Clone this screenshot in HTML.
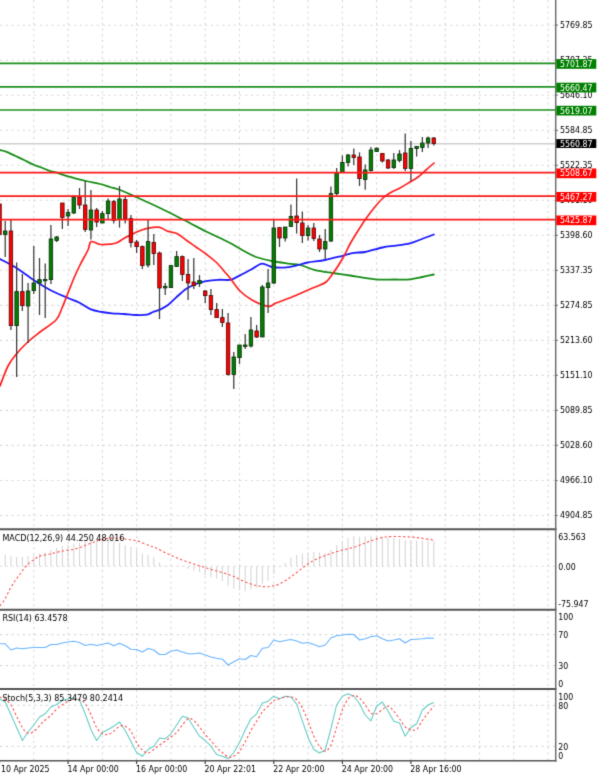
<!DOCTYPE html>
<html lang="en"><head><meta charset="utf-8"><title>Chart</title>
<style>
html,body{margin:0;padding:0;background:#fff;}
body{width:600px;height:776px;overflow:hidden;}
svg{display:block;}
text{font-family:"DejaVu Sans Condensed","Liberation Sans",sans-serif;}
.ax{font-size:8.75px;fill:#000;}
.bx{font-size:8.75px;fill:#fff;}
.lg{font-size:8.92px;fill:#000;}
.dt{font-size:8.75px;fill:#000;}
.grid{stroke:#d9d9d9;stroke-width:1.1;stroke-dasharray:2.2 3.5;fill:none;}
.wick{stroke:#3a3a3a;stroke-width:1.25;}
.g{fill:#008000;stroke:#0c2a0c;stroke-width:.8;}
.r{fill:#ff0000;stroke:#4a0a0a;stroke-width:.8;}
.frame{stroke:#555;stroke-width:1.9;fill:none;}
</style></head><body>
<svg width="600" height="776" viewBox="0 0 600 776">
<defs><filter id="soft" x="0" y="0" width="600" height="776" filterUnits="userSpaceOnUse" color-interpolation-filters="sRGB"><feConvolveMatrix order="3" kernelMatrix="0.0144 0.0912 0.0144 0.0912 0.5776 0.0912 0.0144 0.0912 0.0144" divisor="1" edgeMode="duplicate" preserveAlpha="false"/></filter></defs>
<g filter="url(#soft)">
<rect width="600" height="776" fill="#fff"/>
<g class="grid">
<line x1="33.8" y1="0" x2="33.8" y2="760.8"/>
<line x1="68.1" y1="0" x2="68.1" y2="760.8"/>
<line x1="102.4" y1="0" x2="102.4" y2="760.8"/>
<line x1="136.6" y1="0" x2="136.6" y2="760.8"/>
<line x1="170.9" y1="0" x2="170.9" y2="760.8"/>
<line x1="205.2" y1="0" x2="205.2" y2="760.8"/>
<line x1="239.5" y1="0" x2="239.5" y2="760.8"/>
<line x1="273.8" y1="0" x2="273.8" y2="760.8"/>
<line x1="308.1" y1="0" x2="308.1" y2="760.8"/>
<line x1="342.4" y1="0" x2="342.4" y2="760.8"/>
<line x1="376.6" y1="0" x2="376.6" y2="760.8"/>
<line x1="410.9" y1="0" x2="410.9" y2="760.8"/>
<line x1="445.2" y1="0" x2="445.2" y2="760.8"/>
<line x1="479.5" y1="0" x2="479.5" y2="760.8"/>
<line x1="513.8" y1="0" x2="513.8" y2="760.8"/>
<line x1="548.1" y1="0" x2="548.1" y2="760.8"/>
<line x1="0" y1="25.2" x2="555.5" y2="25.2"/>
<line x1="0" y1="60.2" x2="555.5" y2="60.2"/>
<line x1="0" y1="95.2" x2="555.5" y2="95.2"/>
<line x1="0" y1="130.3" x2="555.5" y2="130.3"/>
<line x1="0" y1="165.3" x2="555.5" y2="165.3"/>
<line x1="0" y1="200.3" x2="555.5" y2="200.3"/>
<line x1="0" y1="235.3" x2="555.5" y2="235.3"/>
<line x1="0" y1="270.3" x2="555.5" y2="270.3"/>
<line x1="0" y1="305.4" x2="555.5" y2="305.4"/>
<line x1="0" y1="340.4" x2="555.5" y2="340.4"/>
<line x1="0" y1="375.4" x2="555.5" y2="375.4"/>
<line x1="0" y1="410.4" x2="555.5" y2="410.4"/>
<line x1="0" y1="445.4" x2="555.5" y2="445.4"/>
<line x1="0" y1="480.5" x2="555.5" y2="480.5"/>
<line x1="0" y1="515.5" x2="555.5" y2="515.5"/>
<line x1="0" y1="566.2" x2="555.5" y2="566.2"/>
<line x1="0" y1="634.6" x2="555.5" y2="634.6"/>
<line x1="0" y1="665.6" x2="555.5" y2="665.6"/>
<line x1="0" y1="705.4" x2="555.5" y2="705.4"/>
<line x1="0" y1="746.4" x2="555.5" y2="746.4"/>
</g>
<line x1="0" y1="143.8" x2="555.5" y2="143.8" stroke="#d0d0d0" stroke-width="1.6"/>
<path d="M0.0,150.0C1.0,150.3 3.4,150.6 6.0,151.6C8.6,152.6 12.5,154.6 15.5,156.0C18.5,157.4 20.9,158.5 24.0,160.0C27.1,161.5 31.3,163.6 34.0,164.8C36.7,166.0 37.2,165.9 40.0,167.0C42.8,168.1 48.3,170.5 51.0,171.4C53.7,172.3 53.2,171.6 56.0,172.4C58.8,173.2 63.0,175.0 68.0,176.4C73.0,177.8 80.7,179.7 86.0,181.0C91.3,182.3 96.0,183.0 100.0,184.0C104.0,185.0 106.7,186.0 110.0,187.0C113.3,188.0 115.7,188.3 120.0,190.0C124.3,191.7 129.3,194.0 136.0,197.0C142.7,200.0 152.0,204.2 160.0,208.0C168.0,211.8 176.3,216.1 184.0,220.0C191.7,223.9 200.0,228.5 206.0,231.5C212.0,234.5 215.7,235.9 220.0,238.0C224.3,240.1 228.0,241.8 232.0,244.0C236.0,246.2 240.0,248.8 244.0,251.0C248.0,253.2 251.3,255.3 256.0,257.0C260.7,258.7 266.7,259.9 272.0,261.0C277.3,262.1 283.3,262.9 288.0,263.6C292.7,264.3 295.5,263.9 300.0,265.0C304.5,266.1 309.6,268.7 315.0,270.0C320.4,271.3 326.7,272.1 332.5,273.0C338.3,273.9 342.9,274.4 350.0,275.5C357.1,276.6 367.5,278.6 375.0,279.3C382.5,280.0 389.2,279.5 395.0,279.5C400.8,279.5 405.4,279.7 410.0,279.3C414.6,278.9 418.5,277.8 422.5,277.0C426.5,276.2 431.9,274.9 433.8,274.5" fill="none" stroke="#158c15" stroke-width="1.8" stroke-linejoin="round" stroke-linecap="round"/>
<path d="M0.0,259.0C2.7,260.5 10.8,264.5 16.4,268.0C22.0,271.5 27.9,276.3 33.6,280.0C39.3,283.7 44.9,287.2 50.6,290.2C56.3,293.2 63.1,295.9 68.0,298.0C72.9,300.1 76.2,301.1 80.0,303.0C83.8,304.9 87.3,307.9 91.0,309.4C94.7,310.9 98.5,311.3 102.0,312.0C105.5,312.7 108.3,313.1 112.0,313.4C115.7,313.7 120.0,313.7 124.0,314.0C128.0,314.3 132.2,314.9 136.0,315.0C139.8,315.1 144.2,315.1 147.0,314.6C149.8,314.1 150.8,312.8 153.0,312.0C155.2,311.2 157.5,310.8 160.0,309.6C162.5,308.4 165.3,307.0 168.0,305.0C170.7,303.0 173.0,300.3 176.0,297.6C179.0,294.9 182.7,291.3 186.0,289.0C189.3,286.7 192.7,285.3 196.0,284.0C199.3,282.7 202.3,281.9 206.0,281.2C209.7,280.5 214.3,280.0 218.0,279.8C221.7,279.6 225.7,280.1 228.0,280.0C230.3,279.9 230.0,280.1 232.0,279.3C234.0,278.5 236.7,277.1 240.0,275.4C243.3,273.7 248.3,271.0 252.0,269.0C255.7,267.0 258.7,263.9 262.0,263.6C265.3,263.3 268.3,266.3 272.0,267.0C275.7,267.7 280.0,267.8 284.0,267.6C288.0,267.4 292.1,266.5 296.0,265.6C299.9,264.8 302.7,263.4 307.5,262.5C312.3,261.6 319.2,261.1 325.0,260.0C330.8,258.9 337.7,257.0 342.5,255.8C347.3,254.6 350.2,253.4 354.0,252.8C357.8,252.2 360.2,252.9 365.0,252.0C369.8,251.1 377.3,248.6 382.5,247.5C387.7,246.4 391.4,246.3 396.0,245.6C400.6,244.9 405.7,244.4 410.0,243.3C414.3,242.2 418.0,240.5 422.0,239.0C426.0,237.5 431.8,235.2 433.8,234.5" fill="none" stroke="#1a1aff" stroke-width="1.8" stroke-linejoin="round" stroke-linecap="round"/>
<path d="M0.0,386.0C1.3,382.7 5.3,371.3 8.0,366.0C10.7,360.7 13.1,358.0 16.4,354.0C19.7,350.0 23.9,345.7 27.8,342.0C31.7,338.3 35.3,335.7 40.0,332.0C44.7,328.3 52.3,324.0 56.0,320.0C59.7,316.0 60.0,312.5 62.0,308.0C64.0,303.5 66.0,298.0 68.0,293.0C70.0,288.0 72.0,282.7 74.0,278.0C76.0,273.3 77.7,269.7 80.0,265.0C82.3,260.3 86.2,253.9 88.0,250.0C89.8,246.1 89.0,242.5 91.0,241.6C93.0,240.7 96.8,244.1 100.0,244.5C103.2,244.9 107.2,244.5 110.0,244.2C112.8,243.9 114.2,243.9 116.8,242.8C119.2,241.7 122.2,239.3 125.0,237.8C127.8,236.3 130.8,234.8 133.5,233.6C136.2,232.3 138.5,231.2 141.0,230.3C143.5,229.4 145.8,228.6 148.6,228.1C151.4,227.6 155.4,227.1 157.8,227.2C160.2,227.3 161.5,228.2 163.0,228.8C164.5,229.4 164.7,230.2 167.0,231.0C169.3,231.8 173.8,232.1 177.0,233.6C180.2,235.1 182.8,237.8 186.0,240.0C189.2,242.2 192.7,244.7 196.0,247.0C199.3,249.3 202.7,251.5 206.0,254.0C209.3,256.5 213.0,259.2 216.0,262.0C219.0,264.8 221.7,268.3 224.0,271.0C226.3,273.7 227.3,274.7 230.0,278.0C232.7,281.3 236.3,287.3 240.0,291.0C243.7,294.7 247.3,297.4 252.0,300.0C256.7,302.6 264.0,305.9 268.0,306.4C272.0,306.9 272.0,304.6 276.0,303.0C280.0,301.4 286.7,299.2 292.0,297.0C297.3,294.8 303.3,292.0 308.0,290.0C312.7,288.0 317.0,286.3 320.0,285.0C323.0,283.7 323.9,283.8 326.0,282.0C328.1,280.2 330.5,276.7 332.5,274.0C334.5,271.3 336.1,269.0 338.0,266.0C339.9,263.0 342.0,259.7 344.0,256.0C346.0,252.3 348.0,247.7 350.0,244.0C352.0,240.3 353.5,238.0 356.0,234.0C358.5,230.0 362.0,224.3 365.0,220.0C368.0,215.7 371.0,211.7 374.0,208.0C377.0,204.3 380.3,200.5 383.0,198.0C385.7,195.5 387.2,194.7 390.0,193.0C392.8,191.3 396.7,189.8 400.0,188.0C403.3,186.2 407.0,183.8 410.0,182.0C413.0,180.2 415.3,179.0 418.0,177.0C420.7,175.0 423.3,172.3 426.0,170.0C428.7,167.7 432.7,164.2 434.0,163.0" fill="none" stroke="#ff2020" stroke-width="1.7" stroke-linejoin="round" stroke-linecap="round"/>
<g>
<line class="wick" x1="-0.50" y1="204" x2="-0.50" y2="234.5"/>
<rect class="r" x="-2.25" y="204" width="3.5" height="30.5"/>
<line class="wick" x1="5.21" y1="221" x2="5.21" y2="257"/>
<rect class="g" x="3.46" y="231" width="3.5" height="3.5"/>
<line class="wick" x1="10.93" y1="219.5" x2="10.93" y2="330"/>
<rect class="r" x="9.18" y="231" width="3.5" height="94.6"/>
<line class="wick" x1="16.64" y1="262.4" x2="16.64" y2="377"/>
<rect class="g" x="14.89" y="291.6" width="3.5" height="34.0"/>
<line class="wick" x1="22.36" y1="274" x2="22.36" y2="311"/>
<rect class="r" x="20.61" y="291.6" width="3.5" height="14.0"/>
<line class="wick" x1="28.07" y1="283" x2="28.07" y2="343"/>
<rect class="g" x="26.32" y="291" width="3.5" height="15.0"/>
<line class="wick" x1="33.79" y1="246" x2="33.79" y2="294"/>
<rect class="g" x="32.04" y="283" width="3.5" height="7.6"/>
<line class="wick" x1="39.50" y1="258" x2="39.50" y2="315"/>
<rect class="g" x="37.75" y="279.6" width="3.5" height="3.4"/>
<line class="wick" x1="45.21" y1="263.6" x2="45.21" y2="318"/>
<rect class="g" x="43.46" y="279.4" width="3.5" height="1.4"/>
<line class="wick" x1="50.93" y1="225" x2="50.93" y2="284"/>
<rect class="g" x="49.18" y="239" width="3.5" height="40.6"/>
<line class="wick" x1="56.64" y1="236" x2="56.64" y2="242"/>
<rect class="g" x="54.89" y="237" width="3.5" height="3.4"/>
<line class="wick" x1="62.36" y1="203" x2="62.36" y2="229"/>
<rect class="r" x="60.61" y="203" width="3.5" height="14.4"/>
<line class="wick" x1="68.07" y1="209" x2="68.07" y2="226"/>
<rect class="g" x="66.32" y="212.6" width="3.5" height="3.4"/>
<line class="wick" x1="73.79" y1="195" x2="73.79" y2="214"/>
<rect class="g" x="72.04" y="197" width="3.5" height="16.0"/>
<line class="wick" x1="79.50" y1="188" x2="79.50" y2="209"/>
<rect class="r" x="77.75" y="197" width="3.5" height="8.0"/>
<line class="wick" x1="85.21" y1="181" x2="85.21" y2="232"/>
<rect class="r" x="83.46" y="205" width="3.5" height="24.4"/>
<line class="wick" x1="90.93" y1="190" x2="90.93" y2="239.6"/>
<rect class="g" x="89.18" y="210" width="3.5" height="20.0"/>
<line class="wick" x1="96.64" y1="208" x2="96.64" y2="227"/>
<rect class="r" x="94.89" y="210" width="3.5" height="12.0"/>
<line class="wick" x1="102.36" y1="211" x2="102.36" y2="223"/>
<rect class="g" x="100.61" y="213.6" width="3.5" height="9.4"/>
<line class="wick" x1="108.07" y1="198.6" x2="108.07" y2="219"/>
<rect class="g" x="106.32" y="201" width="3.5" height="12.6"/>
<line class="wick" x1="113.79" y1="200" x2="113.79" y2="223.6"/>
<rect class="r" x="112.04" y="201.6" width="3.5" height="18.8"/>
<line class="wick" x1="119.50" y1="186" x2="119.50" y2="227.6"/>
<rect class="g" x="117.75" y="199" width="3.5" height="20.4"/>
<line class="wick" x1="125.21" y1="197" x2="125.21" y2="223.6"/>
<rect class="r" x="123.46" y="199.6" width="3.5" height="19.4"/>
<line class="wick" x1="130.93" y1="215" x2="130.93" y2="247.6"/>
<rect class="r" x="129.18" y="218.6" width="3.5" height="23.8"/>
<line class="wick" x1="136.64" y1="240" x2="136.64" y2="253"/>
<rect class="r" x="134.89" y="242" width="3.5" height="4.6"/>
<line class="wick" x1="142.36" y1="245.6" x2="142.36" y2="269"/>
<rect class="r" x="140.61" y="246.6" width="3.5" height="19.0"/>
<line class="wick" x1="148.07" y1="220" x2="148.07" y2="267.6"/>
<rect class="g" x="146.32" y="241.6" width="3.5" height="23.4"/>
<line class="wick" x1="153.79" y1="234" x2="153.79" y2="265"/>
<rect class="r" x="152.04" y="242.4" width="3.5" height="11.2"/>
<line class="wick" x1="159.50" y1="251.6" x2="159.50" y2="319"/>
<rect class="r" x="157.75" y="253" width="3.5" height="35.0"/>
<line class="wick" x1="165.21" y1="283" x2="165.21" y2="295"/>
<rect class="g" x="163.46" y="286.3" width="3.5" height="1.6"/>
<line class="wick" x1="170.93" y1="265.6" x2="170.93" y2="287.6"/>
<rect class="g" x="169.18" y="265.6" width="3.5" height="22.0"/>
<line class="wick" x1="176.64" y1="251" x2="176.64" y2="267"/>
<rect class="g" x="174.89" y="256.6" width="3.5" height="9.8"/>
<line class="wick" x1="182.36" y1="255.6" x2="182.36" y2="281"/>
<rect class="r" x="180.61" y="256.6" width="3.5" height="17.8"/>
<line class="wick" x1="188.07" y1="259" x2="188.07" y2="300"/>
<rect class="r" x="186.32" y="274.4" width="3.5" height="8.6"/>
<line class="wick" x1="193.79" y1="258" x2="193.79" y2="289"/>
<rect class="r" x="192.04" y="282" width="3.5" height="3.6"/>
<line class="wick" x1="199.50" y1="275" x2="199.50" y2="287"/>
<rect class="g" x="197.75" y="280.4" width="3.5" height="3.2"/>
<line class="wick" x1="205.21" y1="290" x2="205.21" y2="303"/>
<rect class="r" x="203.46" y="291" width="3.5" height="4.6"/>
<line class="wick" x1="210.93" y1="289" x2="210.93" y2="315"/>
<rect class="r" x="209.18" y="295.6" width="3.5" height="14.0"/>
<line class="wick" x1="216.64" y1="303" x2="216.64" y2="318"/>
<rect class="r" x="214.89" y="309.6" width="3.5" height="8.0"/>
<line class="wick" x1="222.36" y1="309" x2="222.36" y2="327"/>
<rect class="r" x="220.61" y="317.6" width="3.5" height="4.8"/>
<line class="wick" x1="228.07" y1="313" x2="228.07" y2="375.6"/>
<rect class="r" x="226.32" y="323" width="3.5" height="51.4"/>
<line class="wick" x1="233.79" y1="352" x2="233.79" y2="389"/>
<rect class="g" x="232.04" y="357" width="3.5" height="17.4"/>
<line class="wick" x1="239.50" y1="345" x2="239.50" y2="364"/>
<rect class="g" x="237.75" y="345" width="3.5" height="12.6"/>
<line class="wick" x1="245.21" y1="334" x2="245.21" y2="349"/>
<rect class="g" x="243.46" y="345" width="3.5" height="1.4"/>
<line class="wick" x1="250.93" y1="317" x2="250.93" y2="347.6"/>
<rect class="g" x="249.18" y="330" width="3.5" height="16.0"/>
<line class="wick" x1="256.64" y1="325" x2="256.64" y2="338"/>
<rect class="r" x="254.89" y="331" width="3.5" height="6.0"/>
<line class="wick" x1="262.36" y1="285" x2="262.36" y2="337"/>
<rect class="g" x="260.61" y="287" width="3.5" height="50.0"/>
<line class="wick" x1="268.07" y1="269" x2="268.07" y2="313"/>
<rect class="g" x="266.32" y="283" width="3.5" height="4.6"/>
<line class="wick" x1="273.79" y1="220" x2="273.79" y2="284"/>
<rect class="g" x="272.04" y="228" width="3.5" height="55.0"/>
<line class="wick" x1="279.50" y1="227.6" x2="279.50" y2="247"/>
<rect class="r" x="277.75" y="227.6" width="3.5" height="10.4"/>
<line class="wick" x1="285.21" y1="227" x2="285.21" y2="241.6"/>
<rect class="g" x="283.46" y="227" width="3.5" height="11.0"/>
<line class="wick" x1="290.93" y1="204.4" x2="290.93" y2="227"/>
<rect class="g" x="289.18" y="216.4" width="3.5" height="10.0"/>
<line class="wick" x1="296.64" y1="178.4" x2="296.64" y2="233.6"/>
<rect class="r" x="294.89" y="216" width="3.5" height="6.6"/>
<line class="wick" x1="302.36" y1="211.6" x2="302.36" y2="243"/>
<rect class="r" x="300.61" y="223" width="3.5" height="12.6"/>
<line class="wick" x1="308.07" y1="225" x2="308.07" y2="240.6"/>
<rect class="g" x="306.32" y="228" width="3.5" height="7.6"/>
<line class="wick" x1="313.79" y1="223" x2="313.79" y2="241"/>
<rect class="r" x="312.04" y="228" width="3.5" height="10.4"/>
<line class="wick" x1="319.50" y1="235" x2="319.50" y2="252"/>
<rect class="r" x="317.75" y="239" width="3.5" height="10.0"/>
<line class="wick" x1="325.22" y1="229" x2="325.22" y2="259"/>
<rect class="g" x="323.47" y="241.6" width="3.5" height="7.4"/>
<line class="wick" x1="330.93" y1="186.4" x2="330.93" y2="242"/>
<rect class="g" x="329.18" y="193.6" width="3.5" height="47.4"/>
<line class="wick" x1="336.64" y1="168" x2="336.64" y2="195.6"/>
<rect class="g" x="334.89" y="173" width="3.5" height="20.6"/>
<line class="wick" x1="342.36" y1="155.6" x2="342.36" y2="172.4"/>
<rect class="g" x="340.61" y="162.4" width="3.5" height="10.0"/>
<line class="wick" x1="348.07" y1="154" x2="348.07" y2="166.4"/>
<rect class="g" x="346.32" y="155" width="3.5" height="7.4"/>
<line class="wick" x1="353.79" y1="148.4" x2="353.79" y2="165"/>
<rect class="r" x="352.04" y="155" width="3.5" height="2.4"/>
<line class="wick" x1="359.50" y1="152.4" x2="359.50" y2="186"/>
<rect class="r" x="357.75" y="157" width="3.5" height="21.6"/>
<line class="wick" x1="365.22" y1="164.4" x2="365.22" y2="189.8"/>
<rect class="g" x="363.47" y="170" width="3.5" height="9.5"/>
<line class="wick" x1="370.93" y1="147" x2="370.93" y2="171.6"/>
<rect class="g" x="369.18" y="150" width="3.5" height="20.6"/>
<line class="wick" x1="376.64" y1="147.6" x2="376.64" y2="152"/>
<rect class="g" x="374.89" y="148.2" width="3.5" height="3.4"/>
<line class="wick" x1="382.36" y1="153" x2="382.36" y2="162.6"/>
<rect class="r" x="380.61" y="153.5" width="3.5" height="7.5"/>
<line class="wick" x1="388.07" y1="159" x2="388.07" y2="169"/>
<rect class="r" x="386.32" y="160" width="3.5" height="8.0"/>
<line class="wick" x1="393.79" y1="153" x2="393.79" y2="169"/>
<rect class="g" x="392.04" y="160" width="3.5" height="7.6"/>
<line class="wick" x1="399.50" y1="150" x2="399.50" y2="162.4"/>
<rect class="g" x="397.75" y="154" width="3.5" height="6.4"/>
<line class="wick" x1="405.22" y1="133.6" x2="405.22" y2="171"/>
<rect class="r" x="403.47" y="153" width="3.5" height="15.4"/>
<line class="wick" x1="410.93" y1="141" x2="410.93" y2="181"/>
<rect class="g" x="409.18" y="148.4" width="3.5" height="20.0"/>
<line class="wick" x1="416.64" y1="146.4" x2="416.64" y2="156.6"/>
<rect class="g" x="414.89" y="146.4" width="3.5" height="2.2"/>
<line class="wick" x1="422.36" y1="137" x2="422.36" y2="152"/>
<rect class="g" x="420.61" y="143" width="3.5" height="4.4"/>
<line class="wick" x1="428.07" y1="136.4" x2="428.07" y2="148"/>
<rect class="g" x="426.32" y="138" width="3.5" height="5.0"/>
<line class="wick" x1="433.79" y1="137" x2="433.79" y2="145.6"/>
<rect class="r" x="432.04" y="138" width="3.5" height="5.6"/>
</g>
<line x1="0" y1="63.3" x2="555.5" y2="63.3" stroke="#1f8f1f" stroke-width="1.7"/>
<line x1="0" y1="86.9" x2="555.5" y2="86.9" stroke="#1f8f1f" stroke-width="1.7"/>
<line x1="0" y1="110.0" x2="555.5" y2="110.0" stroke="#1f8f1f" stroke-width="1.7"/>
<line x1="0" y1="172.7" x2="555.5" y2="172.7" stroke="#ff1a1a" stroke-width="1.7"/>
<line x1="0" y1="196.2" x2="555.5" y2="196.2" stroke="#ff1a1a" stroke-width="1.7"/>
<line x1="0" y1="219.7" x2="555.5" y2="219.7" stroke="#ff1a1a" stroke-width="1.7"/>
<g stroke="#d6d6d6" stroke-width="1.1">
<line x1="-0.50" y1="566.25" x2="-0.50" y2="554"/>
<line x1="5.21" y1="566.25" x2="5.21" y2="554.5"/>
<line x1="10.93" y1="566.25" x2="10.93" y2="556"/>
<line x1="16.64" y1="566.25" x2="16.64" y2="557"/>
<line x1="22.36" y1="566.25" x2="22.36" y2="556.8"/>
<line x1="28.07" y1="566.25" x2="28.07" y2="556"/>
<line x1="33.79" y1="566.25" x2="33.79" y2="555.5"/>
<line x1="39.50" y1="566.25" x2="39.50" y2="553.75"/>
<line x1="45.21" y1="566.25" x2="45.21" y2="552.5"/>
<line x1="50.93" y1="566.25" x2="50.93" y2="550"/>
<line x1="56.64" y1="566.25" x2="56.64" y2="548"/>
<line x1="62.36" y1="566.25" x2="62.36" y2="546"/>
<line x1="68.07" y1="566.25" x2="68.07" y2="545"/>
<line x1="73.79" y1="566.25" x2="73.79" y2="543.75"/>
<line x1="79.50" y1="566.25" x2="79.50" y2="542.5"/>
<line x1="85.21" y1="566.25" x2="85.21" y2="541"/>
<line x1="90.93" y1="566.25" x2="90.93" y2="540"/>
<line x1="96.64" y1="566.25" x2="96.64" y2="538.75"/>
<line x1="102.36" y1="566.25" x2="102.36" y2="538.75"/>
<line x1="108.07" y1="566.25" x2="108.07" y2="539.5"/>
<line x1="113.79" y1="566.25" x2="113.79" y2="540.5"/>
<line x1="119.50" y1="566.25" x2="119.50" y2="542.5"/>
<line x1="125.21" y1="566.25" x2="125.21" y2="545"/>
<line x1="130.93" y1="566.25" x2="130.93" y2="547"/>
<line x1="136.64" y1="566.25" x2="136.64" y2="549.5"/>
<line x1="142.36" y1="566.25" x2="142.36" y2="553.75"/>
<line x1="148.07" y1="566.25" x2="148.07" y2="555"/>
<line x1="153.79" y1="566.25" x2="153.79" y2="557"/>
<line x1="159.50" y1="566.25" x2="159.50" y2="562.5"/>
<line x1="165.21" y1="566.25" x2="165.21" y2="565.5"/>
<line x1="182.36" y1="566.25" x2="182.36" y2="567"/>
<line x1="188.07" y1="566.25" x2="188.07" y2="568.75"/>
<line x1="193.79" y1="566.25" x2="193.79" y2="571"/>
<line x1="199.50" y1="566.25" x2="199.50" y2="572"/>
<line x1="205.21" y1="566.25" x2="205.21" y2="575"/>
<line x1="210.93" y1="566.25" x2="210.93" y2="577"/>
<line x1="216.64" y1="566.25" x2="216.64" y2="578.75"/>
<line x1="222.36" y1="566.25" x2="222.36" y2="581"/>
<line x1="228.07" y1="566.25" x2="228.07" y2="586"/>
<line x1="233.79" y1="566.25" x2="233.79" y2="588.75"/>
<line x1="239.50" y1="566.25" x2="239.50" y2="590.5"/>
<line x1="245.21" y1="566.25" x2="245.21" y2="591"/>
<line x1="250.93" y1="566.25" x2="250.93" y2="589.5"/>
<line x1="256.64" y1="566.25" x2="256.64" y2="587.5"/>
<line x1="262.36" y1="566.25" x2="262.36" y2="583.75"/>
<line x1="268.07" y1="566.25" x2="268.07" y2="580.5"/>
<line x1="273.79" y1="566.25" x2="273.79" y2="573.75"/>
<line x1="279.50" y1="566.25" x2="279.50" y2="567"/>
<line x1="285.21" y1="566.25" x2="285.21" y2="563"/>
<line x1="290.93" y1="566.25" x2="290.93" y2="557.5"/>
<line x1="296.64" y1="566.25" x2="296.64" y2="555"/>
<line x1="302.36" y1="566.25" x2="302.36" y2="553.75"/>
<line x1="308.07" y1="566.25" x2="308.07" y2="552.5"/>
<line x1="313.79" y1="566.25" x2="313.79" y2="552"/>
<line x1="319.50" y1="566.25" x2="319.50" y2="552.5"/>
<line x1="325.22" y1="566.25" x2="325.22" y2="553"/>
<line x1="330.93" y1="566.25" x2="330.93" y2="550"/>
<line x1="336.64" y1="566.25" x2="336.64" y2="545"/>
<line x1="342.36" y1="566.25" x2="342.36" y2="541.25"/>
<line x1="348.07" y1="566.25" x2="348.07" y2="538"/>
<line x1="353.79" y1="566.25" x2="353.79" y2="536.25"/>
<line x1="359.50" y1="566.25" x2="359.50" y2="536.75"/>
<line x1="365.22" y1="566.25" x2="365.22" y2="536.25"/>
<line x1="370.93" y1="566.25" x2="370.93" y2="535.5"/>
<line x1="376.64" y1="566.25" x2="376.64" y2="535.5"/>
<line x1="382.36" y1="566.25" x2="382.36" y2="536.25"/>
<line x1="388.07" y1="566.25" x2="388.07" y2="537"/>
<line x1="393.79" y1="566.25" x2="393.79" y2="538"/>
<line x1="399.50" y1="566.25" x2="399.50" y2="538.75"/>
<line x1="405.22" y1="566.25" x2="405.22" y2="540"/>
<line x1="410.93" y1="566.25" x2="410.93" y2="540"/>
<line x1="416.64" y1="566.25" x2="416.64" y2="540.5"/>
<line x1="422.36" y1="566.25" x2="422.36" y2="540.5"/>
<line x1="428.07" y1="566.25" x2="428.07" y2="540.5"/>
<line x1="433.79" y1="566.25" x2="433.79" y2="540.5"/>
</g>
<path d="M0.0,606.0C0.8,604.8 3.3,601.8 5.0,599.0C6.7,596.2 8.3,592.0 10.0,589.0C11.7,586.0 13.3,583.5 15.0,581.0C16.7,578.5 18.3,576.2 20.0,574.0C21.7,571.8 23.3,569.4 25.0,567.5C26.7,565.6 28.3,563.9 30.0,562.5C31.7,561.1 33.3,560.1 35.0,559.0C36.7,557.9 37.5,556.8 40.0,556.0C42.5,555.2 46.2,554.8 50.0,554.0C53.8,553.2 58.3,551.8 62.5,551.0C66.7,550.2 70.8,550.1 75.0,549.0C79.2,547.9 83.3,546.0 87.5,544.5C91.7,543.0 95.8,541.1 100.0,540.0C104.2,538.9 108.3,538.2 112.5,538.0C116.7,537.8 120.8,538.5 125.0,539.0C129.2,539.5 133.3,539.8 137.5,541.0C141.7,542.2 147.1,544.9 150.0,546.0C152.9,547.1 151.7,546.0 155.0,547.5C158.3,549.0 165.0,552.8 170.0,555.0C175.0,557.2 180.0,559.2 185.0,561.0C190.0,562.8 195.0,564.4 200.0,566.0C205.0,567.6 210.0,569.0 215.0,570.5C220.0,572.0 225.8,573.5 230.0,575.0C234.2,576.5 236.7,578.0 240.0,579.5C243.3,581.0 247.1,582.7 250.0,583.8C252.9,584.8 255.0,585.2 257.5,585.8C260.0,586.2 262.5,586.7 265.0,586.8C267.5,586.8 270.0,586.5 272.5,586.0C275.0,585.5 277.1,585.2 280.0,583.8C282.9,582.3 286.7,579.8 290.0,577.5C293.3,575.2 296.7,572.5 300.0,570.0C303.3,567.5 306.7,564.6 310.0,562.5C313.3,560.4 316.7,559.0 320.0,557.5C323.3,556.0 326.2,555.0 330.0,553.8C333.8,552.5 338.3,551.1 342.5,550.0C346.7,548.9 351.2,548.2 355.0,547.0C358.8,545.8 361.7,544.2 365.0,543.0C368.3,541.8 371.7,540.5 375.0,539.5C378.3,538.5 381.2,537.5 385.0,537.0C388.8,536.5 393.3,536.5 397.5,536.5C401.7,536.5 406.2,536.8 410.0,537.0C413.8,537.2 416.7,537.6 420.0,538.0C423.3,538.4 427.7,539.2 430.0,539.5C432.3,539.8 433.3,539.9 434.0,540.0" fill="none" stroke="#ff5050" stroke-width="1.1" stroke-dasharray="2.3 2.3"/>
<polyline points="-0.5,643.8 5.2,643.8 10.9,650.0 16.6,648.0 22.4,648.8 28.1,648.0 33.8,647.5 39.5,647.5 45.2,647.5 50.9,644.5 56.6,644.5 62.4,643.0 68.1,642.0 73.8,641.2 79.5,642.5 85.2,645.5 90.9,644.2 96.6,645.5 102.4,644.2 108.1,643.0 113.8,645.8 119.5,643.2 125.2,645.8 130.9,649.2 136.6,649.5 142.4,652.0 148.1,648.5 153.8,650.0 159.5,654.5 165.2,654.5 170.9,651.2 176.6,650.0 182.4,652.0 188.1,653.8 193.8,653.8 199.5,653.0 205.2,655.0 210.9,657.0 216.6,658.2 222.4,659.2 228.1,665.0 233.8,661.8 239.5,658.8 245.2,659.5 250.9,655.5 256.6,656.8 262.4,648.2 268.1,647.5 273.8,640.0 279.5,641.8 285.2,640.5 290.9,639.5 296.6,641.0 302.4,643.2 308.1,642.5 313.8,644.5 319.5,646.8 325.2,645.0 330.9,638.0 336.6,635.8 342.4,635.0 348.1,634.2 353.8,634.5 359.5,640.0 365.2,638.8 370.9,636.8 376.6,635.8 382.4,638.8 388.1,641.0 393.8,640.0 399.5,638.8 405.2,643.0 410.9,639.5 416.6,639.2 422.4,638.8 428.1,638.0 433.8,638.2" fill="none" stroke="#68b3ff" stroke-width="1.1" stroke-linejoin="round"/>
<polyline points="-0.5,698.8 5.2,702.0 10.9,714.5 16.6,727.5 22.4,740.5 28.1,732.0 33.8,725.0 39.5,717.0 45.2,713.8 50.9,707.0 56.6,704.5 62.4,700.5 68.1,698.8 73.8,698.0 79.5,700.0 85.2,713.8 90.9,729.5 96.6,740.5 102.4,732.5 108.1,729.5 113.8,726.2 119.5,722.0 125.2,730.5 130.9,741.2 136.6,752.5 142.4,756.2 148.1,749.5 153.8,746.2 159.5,738.0 165.2,738.8 170.9,733.8 176.6,725.0 182.4,716.2 188.1,718.0 193.8,727.5 199.5,736.2 205.2,740.5 210.9,746.2 216.6,754.5 222.4,756.2 228.1,758.8 233.8,752.5 239.5,742.5 245.2,730.0 250.9,718.8 256.6,713.8 262.4,703.0 268.1,701.2 273.8,696.2 279.5,698.8 285.2,696.2 290.9,697.0 296.6,703.8 302.4,721.2 308.1,737.5 313.8,749.5 319.5,753.0 325.2,750.0 330.9,728.8 336.6,705.0 342.4,696.2 348.1,693.8 353.8,696.2 359.5,703.8 365.2,715.0 370.9,720.8 376.6,706.2 382.4,702.0 388.1,711.2 393.8,721.2 399.5,723.0 405.2,736.2 410.9,727.5 416.6,723.8 422.4,710.0 428.1,705.0 433.8,702.5" fill="none" stroke="#60cbc4" stroke-width="1.05" stroke-linejoin="round"/>
<path d="M-0.5,697.0C0.5,697.4 3.3,698.2 5.2,699.5C7.1,700.8 9.0,702.2 10.9,705.0C12.8,707.8 14.7,712.5 16.6,716.2C18.5,720.0 20.7,724.8 22.4,727.5C24.0,730.2 24.9,731.6 26.4,732.5C27.8,733.4 29.3,733.5 30.9,733.0C32.5,732.5 34.2,731.2 36.1,729.5C38.0,727.8 40.1,724.7 42.4,722.5C44.6,720.3 47.3,718.5 49.8,716.2C52.3,714.0 54.6,711.0 57.2,708.8C59.8,706.5 62.6,704.5 65.2,703.0C67.8,701.5 70.3,700.1 72.6,699.5C75.0,698.9 77.4,698.8 79.5,699.5C81.6,700.2 83.3,701.2 85.2,703.8C87.1,706.2 89.0,710.5 90.9,714.5C92.8,718.5 94.7,724.3 96.6,727.5C98.5,730.7 100.5,732.6 102.4,733.8C104.3,734.9 106.2,734.9 108.1,734.5C110.0,734.1 111.9,732.6 113.8,731.2C115.7,729.9 117.6,727.1 119.5,726.2C121.4,725.4 123.3,725.4 125.2,726.2C127.1,727.1 129.0,728.5 130.9,731.2C132.8,734.0 134.7,739.4 136.6,742.5C138.5,745.6 140.5,748.2 142.4,750.0C144.3,751.8 146.2,753.1 148.1,753.0C150.0,752.9 151.9,750.8 153.8,749.5C155.7,748.2 157.6,746.4 159.5,745.0C161.4,743.6 163.3,742.6 165.2,741.2C167.1,739.9 169.0,738.5 170.9,737.0C172.8,735.5 174.7,734.5 176.6,732.5C178.5,730.5 180.5,727.3 182.4,725.0C184.3,722.7 186.2,719.5 188.1,718.8C190.0,718.0 191.9,719.1 193.8,720.5C195.7,721.9 197.6,724.7 199.5,727.0C201.4,729.3 203.3,732.2 205.2,734.5C207.1,736.8 209.0,738.3 210.9,740.5C212.8,742.7 214.7,745.5 216.6,747.5C218.5,749.5 220.5,750.9 222.4,752.5C224.3,754.1 226.2,756.4 228.1,757.0C230.0,757.6 231.9,757.2 233.8,756.2C235.7,755.3 237.6,753.6 239.5,751.2C241.4,748.9 243.3,745.5 245.2,742.0C247.1,738.5 249.0,734.0 250.9,730.5C252.8,727.0 254.7,724.3 256.6,721.2C258.5,718.2 260.5,714.5 262.4,712.0C264.3,709.5 266.2,708.2 268.1,706.2C270.0,704.3 271.9,701.8 273.8,700.5C275.7,699.2 277.6,699.3 279.5,698.8C281.4,698.2 283.3,697.3 285.2,697.0C287.1,696.7 289.0,696.6 290.9,697.0C292.8,697.4 294.7,697.7 296.6,699.5C298.5,701.3 300.5,704.4 302.4,708.0C304.3,711.6 306.2,716.5 308.1,721.2C310.0,726.0 311.9,732.1 313.8,736.2C315.7,740.4 317.6,743.8 319.5,746.2C321.4,748.8 323.3,751.5 325.2,751.2C327.1,751.0 329.0,749.0 330.9,745.0C332.8,741.0 334.7,733.3 336.6,727.5C338.5,721.7 340.5,714.8 342.4,710.0C344.3,705.2 346.2,701.2 348.1,698.8C350.0,696.3 351.9,695.6 353.8,695.5C355.7,695.4 357.6,696.4 359.5,698.0C361.4,699.6 363.3,702.5 365.2,705.0C367.1,707.5 369.0,711.5 370.9,713.0C372.8,714.5 374.7,714.3 376.6,713.8C378.5,713.2 380.5,710.8 382.4,709.5C384.3,708.2 386.2,706.0 388.1,706.2C390.0,706.5 391.9,709.2 393.8,711.2C395.7,713.3 397.6,716.1 399.5,718.8C401.4,721.4 403.3,725.2 405.2,727.0C407.1,728.8 409.0,729.1 410.9,729.5C412.8,729.9 414.7,731.0 416.6,729.5C418.5,728.0 420.5,723.2 422.4,720.5C424.3,717.8 426.2,715.4 428.1,713.0C430.0,710.6 432.8,707.4 433.8,706.2" fill="none" stroke="#ff5050" stroke-width="1.1" stroke-dasharray="2.3 2.3"/>
<g class="frame">
<line x1="0" y1="529.2" x2="556.5" y2="529.2"/>
<line x1="0" y1="609.7" x2="556.5" y2="609.7"/>
<line x1="0" y1="689.0" x2="556.5" y2="689.0"/>
<line x1="0" y1="760.8" x2="556.5" y2="760.8" stroke-width="1.6"/>
<line x1="555.7" y1="0" x2="555.7" y2="761.8" stroke="#6c6c6c" stroke-width="1.45"/>
</g>
<g stroke="#444" stroke-width="1.2">
<line x1="556.4" y1="25.2" x2="557.6" y2="25.2"/>
<line x1="556.4" y1="60.2" x2="557.6" y2="60.2"/>
<line x1="556.4" y1="95.2" x2="557.6" y2="95.2"/>
<line x1="556.4" y1="130.3" x2="557.6" y2="130.3"/>
<line x1="556.4" y1="165.3" x2="557.6" y2="165.3"/>
<line x1="556.4" y1="200.3" x2="557.6" y2="200.3"/>
<line x1="556.4" y1="235.3" x2="557.6" y2="235.3"/>
<line x1="556.4" y1="270.3" x2="557.6" y2="270.3"/>
<line x1="556.4" y1="305.4" x2="557.6" y2="305.4"/>
<line x1="556.4" y1="340.4" x2="557.6" y2="340.4"/>
<line x1="556.4" y1="375.4" x2="557.6" y2="375.4"/>
<line x1="556.4" y1="410.4" x2="557.6" y2="410.4"/>
<line x1="556.4" y1="445.4" x2="557.6" y2="445.4"/>
<line x1="556.4" y1="480.5" x2="557.6" y2="480.5"/>
<line x1="556.4" y1="515.5" x2="557.6" y2="515.5"/>
<line x1="-0.5" y1="760.8" x2="-0.5" y2="764.0"/>
<line x1="68.1" y1="760.8" x2="68.1" y2="764.0"/>
<line x1="136.6" y1="760.8" x2="136.6" y2="764.0"/>
<line x1="205.2" y1="760.8" x2="205.2" y2="764.0"/>
<line x1="273.8" y1="760.8" x2="273.8" y2="764.0"/>
<line x1="342.4" y1="760.8" x2="342.4" y2="764.0"/>
<line x1="410.9" y1="760.8" x2="410.9" y2="764.0"/>
</g>
<text class="ax" x="560" y="28.1">5769.85</text>
<text class="ax" x="560" y="63.2">5707.35</text>
<text class="ax" x="560" y="98.2">5646.10</text>
<text class="ax" x="560" y="133.2">5584.85</text>
<text class="ax" x="560" y="168.2">5522.35</text>
<text class="ax" x="560" y="203.2">5461.10</text>
<text class="ax" x="560" y="238.3">5398.60</text>
<text class="ax" x="560" y="273.3">5337.35</text>
<text class="ax" x="560" y="308.3">5274.85</text>
<text class="ax" x="560" y="343.3">5213.60</text>
<text class="ax" x="560" y="378.4">5151.10</text>
<text class="ax" x="560" y="413.4">5089.85</text>
<text class="ax" x="560" y="448.4">5028.60</text>
<text class="ax" x="560" y="483.4">4966.10</text>
<text class="ax" x="560" y="518.4">4904.85</text>
<rect x="556.3" y="59.1" width="40" height="9.7" fill="#008000"/>
<text class="bx" x="560" y="67.0">5701.87</text>
<rect x="556.3" y="82.7" width="40" height="9.7" fill="#008000"/>
<text class="bx" x="560" y="90.6">5660.47</text>
<rect x="556.3" y="105.8" width="40" height="9.7" fill="#008000"/>
<text class="bx" x="560" y="113.7">5619.07</text>
<rect x="556.3" y="168.5" width="40" height="9.7" fill="#ff0000"/>
<text class="bx" x="560" y="176.4">5508.67</text>
<rect x="556.3" y="192.0" width="40" height="9.7" fill="#ff0000"/>
<text class="bx" x="560" y="199.9">5467.27</text>
<rect x="556.3" y="215.5" width="40" height="9.7" fill="#ff0000"/>
<text class="bx" x="560" y="223.4">5425.87</text>
<rect x="556.3" y="139.1" width="40" height="8.9" fill="#000000"/>
<text class="bx" x="560" y="146.6">5560.87</text>
<text class="ax" x="558.2" y="539.6">63.563</text>
<text class="ax" x="558.2" y="570.0">0.00</text>
<text class="ax" x="558.2" y="606.5">-75.947</text>
<text class="ax" x="558.2" y="620.0">100</text>
<text class="ax" x="558.2" y="637.8">70</text>
<text class="ax" x="558.2" y="668.9">30</text>
<text class="ax" x="558.2" y="686.5">0</text>
<text class="ax" x="558.2" y="699.7">100</text>
<text class="ax" x="558.2" y="708.5">80</text>
<text class="ax" x="558.2" y="749.7">20</text>
<text class="ax" x="558.2" y="758.5">0</text>
<text class="lg" x="2.4" y="541.4">MACD(12,26,9) 44.250 48.016</text>
<text class="lg" x="2.4" y="621.4">RSI(14) 63.4578</text>
<text class="lg" x="2.4" y="701">Stoch(5,3,3) 85.3479 80.2414</text>
<text class="dt" x="0.9" y="771.9">10 Apr 2025</text>
<text class="dt" x="67.5" y="771.9">14 Apr 00:00</text>
<text class="dt" x="136.0" y="771.9">16 Apr 00:00</text>
<text class="dt" x="204.6" y="771.9">20 Apr 22:01</text>
<text class="dt" x="273.2" y="771.9">22 Apr 20:00</text>
<text class="dt" x="341.8" y="771.9">24 Apr 20:00</text>
<text class="dt" x="410.3" y="771.9">28 Apr 16:00</text>
</g></svg></body></html>
